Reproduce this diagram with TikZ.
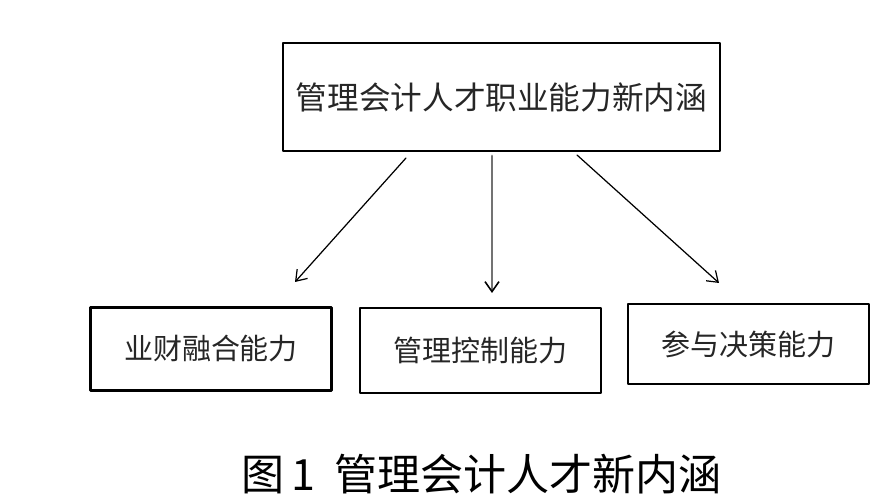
\documentclass[tikz,border=0pt]{standalone}
\usepackage{fontspec}
\setmainfont{Noto Sans CJK SC}
\usetikzlibrary{arrows.meta}

\begin{document}
\begin{tikzpicture}[
  x=1cm,
  y=1cm,
  line cap=round,
  line join=round,
  main box/.style={
    draw=black,line width=1.1pt,inner sep=0pt,
    minimum width=8.74cm,minimum height=2.16cm,
    text=black!85,font=\fontsize{18}{20}\selectfont
  },
  ability box/.style={
    draw=black,line width=1.2pt,inner sep=0pt,
    minimum width=4.82cm,minimum height=1.66cm,
    text=black!85,font=\fontsize{16.5}{18}\selectfont
  },
  branch arrow/.style={
    draw=black,
    line width=0.7pt,
    -{Straight Barb[length=2mm,width=2.8mm]}
  },
  fig caption/.style={inner sep=0pt,font=\fontsize{24.5}{26}\selectfont}
]
  \path[use as bounding box] (0,0) rectangle (17.78,9.94);

  % Top: the new connotation of the talent's competence
  \node[main box] (top) at (10.03,8.00) {管理会计人才职业能力新内涵};

  % Three abilities below it
  \node[ability box] (fusion) at (4.22,2.96) {业财融合能力};
  \node[ability box,minimum height=1.70cm] (control) at (9.61,2.93) {管理控制能力};
  \node[ability box,line width=0.6pt,minimum height=1.60cm] (decision) at (14.97,3.06) {参与决策能力};

  % Arrows stop short of both boxes, as in the figure.
  \coordinate (fusionS) at (8.12,6.78);
  \coordinate (fusionE) at (5.90,4.30);
  \coordinate (controlS) at (9.84,6.82);
  \coordinate (controlE) at (9.84,4.08);
  \coordinate (decisionS) at (11.54,6.84);
  \coordinate (decisionE) at (14.38,4.28);
  \draw[branch arrow] (fusionS) -- (fusionE);
  \draw[branch arrow,draw=black!55,line width=1.6pt,
        -{Straight Barb[length=2mm,width=2.8mm,line width=0.9pt,color=black]}] (controlS) -- (controlE);
  \draw[branch arrow] (decisionS) -- (decisionE);

  \node[fig caption] (cap) at (9.63,0.46) {图\,1\ \ 管理会计人才新内涵};
\end{tikzpicture}
\end{document}
